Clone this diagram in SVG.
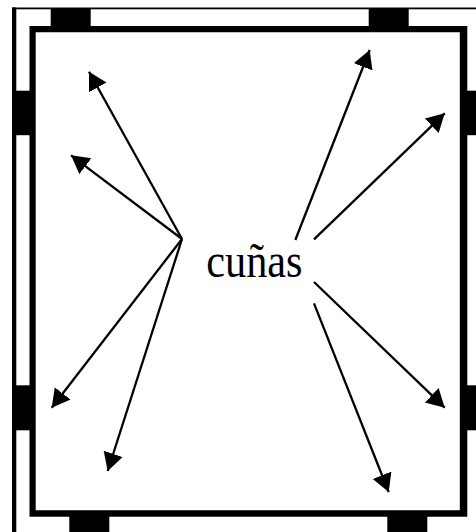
<svg xmlns="http://www.w3.org/2000/svg" width="476" height="532" viewBox="0 0 476 532">
<style>
.wall{fill:#000}
.con{stroke:#000;stroke-width:2.3;fill:none;marker-end:url(#arr)}
.lbl{font-family:"Liberation Serif","Times New Roman",serif;font-size:42.3px;fill:#000}
</style>
<defs>
<marker id="arr" markerUnits="userSpaceOnUse" markerWidth="20" markerHeight="22" refX="18" refY="10" orient="auto">
<path d="M0 0L18 10L0 20Z" fill="#000"/>
</marker>
</defs>
<rect width="476" height="532" fill="#fff"/>
<g id="walls">
<rect class="wall" x="12" y="7.5" width="464" height="1.8"/>
<rect class="wall" x="12" y="7.5" width="4.3" height="524.5"/>
<path class="wall" fill-rule="evenodd" d="M29.5 26H467.3V516.7H29.5ZM35.7 32.2V510.3H459.8V32.2Z"/>
</g>
<g id="pillars">
<rect class="wall" x="50.7" y="8" width="40" height="19"/>
<rect class="wall" x="368.7" y="8" width="40" height="19"/>
<rect class="wall" x="12" y="90.7" width="19" height="44.5"/>
<rect class="wall" x="12" y="385.3" width="19" height="45"/>
<rect class="wall" x="466" y="90.7" width="10" height="44.5"/>
<rect class="wall" x="466" y="385.3" width="10" height="45"/>
<rect class="wall" x="69.3" y="516" width="40" height="16"/>
<rect class="wall" x="387.3" y="516" width="40" height="16"/>
</g>
<g id="connectors">
<line class="con" x1="182" y1="239" x2="89" y2="71.7"/>
<line class="con" x1="182" y1="239" x2="71" y2="155.3"/>
<line class="con" x1="182" y1="239" x2="51.7" y2="407.7"/>
<line class="con" x1="182" y1="239" x2="107.7" y2="471"/>
<line class="con" x1="295.3" y1="240" x2="369.7" y2="50"/>
<line class="con" x1="314" y1="239.3" x2="444.7" y2="113.3"/>
<line class="con" x1="314" y1="282" x2="444.7" y2="407.7"/>
<line class="con" x1="314" y1="303.3" x2="388.7" y2="492"/>
</g>
<g id="label"><text class="lbl" transform="translate(206.3 276.8) scale(1 1.17)">cuñas</text></g>
</svg>
